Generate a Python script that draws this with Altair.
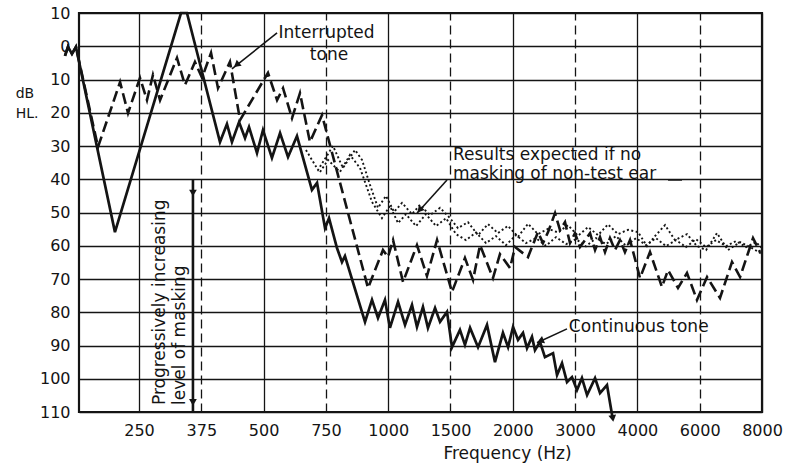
import altair as alt
import pandas as pd

FONT = "DejaVu Sans"
INK = "#141414"

# ---- axis tick labels -------------------------------------------------
freq_labels = ["250", "375", "500", "750", "1000", "1500", "2000", "3000", "4000", "6000", "8000"]
freq_pos = [0.5 * i for i in range(len(freq_labels))]   # audiogram position (octaves above 250 Hz)
db_ticks = list(range(-10, 111, 10))

# ---- continuous tone (solid) -------------------------------------------
cont_oct = [-0.594, -0.570, -0.538, -0.506, -0.193, 0.337, 0.385, 0.650, 0.706, 0.746, 0.803, 0.851,
            0.883, 0.947, 0.995, 1.067, 1.132, 1.196, 1.268, 1.388, 1.429, 1.493, 1.525, 1.589, 1.629,
            1.653, 1.814, 1.870, 1.918, 1.974, 2.014, 2.079, 2.135, 2.191, 2.231, 2.279, 2.319, 2.376,
            2.416, 2.472, 2.512, 2.576, 2.616, 2.657, 2.721, 2.793, 2.857, 2.921, 2.962, 3.002, 3.042,
            3.082, 3.114, 3.154, 3.178, 3.218, 3.258, 3.323, 3.355, 3.395, 3.435, 3.475, 3.515, 3.555,
            3.596, 3.660, 3.700, 3.756, 3.802]
cont_db = [2.9, 0.2, 2.3, 0.2, 55.9, -10, -10, 28.8, 23.4, 28.8, 22.8, 27.6,
           24.3, 32.1, 25.2, 33.6, 26.1, 33.3, 27.0, 43.2, 41.1, 54.7, 51.7, 60.7, 64.9,
           63.1, 82.9, 76.3, 81.7, 76.3, 84.7, 76.9, 83.8, 77.8, 84.4, 78.4, 84.7, 78.7,
           82.9, 79.9, 90.5, 85.3, 89.8, 84.7, 90.5, 83.8, 95.0, 86.2, 90.5, 84.4, 88.3,
           86.2, 90.8, 87.4, 91.4, 88.9, 93.5, 92.3, 98.9, 95.3, 101.0, 99.5, 103.4, 99.8,
           104.9, 99.8, 104.3, 101.9, 112.0]

# ---- interrupted tone (dashed) -----------------------------------------
int_oct = [-0.594, -0.570, -0.538, -0.506, -0.329, -0.152, -0.088, 0.008, 0.064, 0.112, 0.169, 0.305,
           0.369, 0.449, 0.506, 0.578, 0.634, 0.730, 0.811, 1.035, 1.108, 1.156, 1.228, 1.292, 1.372,
           1.469, 1.838, 1.958, 1.998, 2.039, 2.119, 2.231, 2.311, 2.392, 2.512, 2.616, 2.681, 2.737,
           2.841, 2.897, 2.978, 3.018, 3.122, 3.202, 3.242, 3.283, 3.339, 3.379, 3.419, 3.459, 3.499,
           3.539, 3.620, 3.660, 3.700, 3.740, 3.780, 3.820, 3.860, 3.900, 3.941, 4.021, 4.101, 4.197,
           4.246, 4.326, 4.398, 4.478, 4.559, 4.663, 4.759, 4.824, 4.928, 4.984]
int_db = [2.9, 0.2, 2.3, 0.2, 30.3, 10.8, 20.1, 9.5, 16.2, 8.6, 16.2, 3.5,
          11.7, 4.7, 9.5, 2.0, 12.6, 4.7, 22.2, 8.0, 16.2, 12.6, 21.6, 14.1, 28.8,
          20.7, 72.7, 61.3, 63.4, 58.3, 70.9, 59.8, 69.1, 58.3, 73.9, 63.7, 70.3, 59.8,
          69.7, 62.5, 66.7, 60.4, 63.4, 55.9, 59.2, 55.9, 50.2, 55.3, 52.9, 59.2, 56.2,
          60.4, 56.2, 61.3, 57.4, 61.9, 57.7, 61.3, 58.3, 61.9, 58.3, 69.7, 61.9, 72.4,
          67.3, 72.7, 68.2, 76.3, 69.4, 75.7, 64.9, 69.4, 57.7, 61.9]

# ---- results expected if no masking (two dotted tracings) ---------------
dotA_oct = [1.340, 1.437, 1.557, 1.637, 1.734, 1.790, 1.854, 1.918, 1.982, 2.047, 2.111, 2.191,
            2.255, 2.335, 2.416, 2.496, 2.560, 2.640, 2.721, 2.801, 2.881, 2.961, 3.042, 3.122,
            3.202, 3.283, 3.363, 3.443, 3.523, 3.604, 3.684, 3.764, 3.844, 3.925, 4.005, 4.077,
            4.141, 4.222, 4.302, 4.398, 4.478, 4.551, 4.639, 4.727, 4.824, 4.920, 5.000]
dotA_db = [31.2, 37.2, 30.0, 36.6, 31.2, 34.2, 41.7, 48.6, 45.0, 49.8, 47.1, 50.5,
           47.7, 50.8, 48.6, 51.7, 54.7, 52.9, 56.8, 53.5, 56.2, 54.0, 57.3, 53.4,
           56.5, 54.9, 56.0, 53.8, 57.0, 54.4, 56.8, 53.6, 56.5, 55.2, 55.9, 60.1,
           57.1, 53.8, 58.3, 56.5, 60.1, 61.3, 56.2, 61.3, 58.9, 60.7, 62.5]
dotB_oct = [1.453, 1.517, 1.613, 1.693, 1.774, 1.870, 1.950, 2.014, 2.079, 2.143, 2.223, 2.303,
            2.384, 2.464, 2.544, 2.624, 2.705, 2.785, 2.865, 2.945, 3.026, 3.106, 3.186, 3.266,
            3.347, 3.427, 3.507, 3.587, 3.668, 3.748, 3.828, 3.909, 3.989, 4.069, 4.149, 4.230,
            4.310, 4.390, 4.470, 4.551, 4.631, 4.711, 4.791, 4.872, 4.952, 5.000]
dotB_db = [37.8, 34.2, 37.8, 32.7, 36.6, 46.8, 51.7, 48.0, 53.2, 50.5, 54.1, 50.5,
           54.1, 51.7, 56.5, 58.3, 56.0, 59.2, 57.1, 59.8, 56.8, 59.2, 57.7, 60.0,
           57.4, 59.5, 58.0, 60.2, 57.7, 59.5, 57.1, 60.0, 57.7, 59.8, 57.7, 60.1,
           58.3, 60.4, 58.0, 60.4, 58.3, 60.1, 58.6, 60.4, 58.9, 60.7]

# ---- annotations ---------------------------------------------------------
ann_left_txt = ["Interrupted", "Results expected if no", "masking of non-test ear", "Continuous tone"]
ann_left_oct = [1.12, 2.52, 2.52, 3.45]
ann_left_db = [-4.0, 32.7, 38.3, 84.4]
ann_center_txt = ["tone"]
ann_center_oct = [1.525]
ann_center_db = [2.6]
unit_txt = ["dB", "HL."]
unit_oct = [-0.99, -0.99]
unit_db = [14.4, 20.4]
rot_txt = ["Progressively increasing", "level of masking"]
rot_oct = [0.169, 0.329]
rot_db = [107.9, 107.9]

arrow_oct = [1.108, 2.472, 3.435, 4.246]
arrow_db = [-4.0, 40.2, 85.0, 40.2]
arrow_oct2 = [0.746, 2.231, 3.194, 4.358]
arrow_db2 = [6.8, 50.2, 89.2, 40.2]

head_oct = [0.79, 2.258, 3.23, 3.801, 0.433, 0.433]
head_db = [5.4, 49.0, 88.5, 111.6, 43.8, 106.8]
head_angle = [231, 222, 247, 171, 180, 180]

mask_oct = [0.433]
mask_db = [40.2]
mask_db2 = [110]

# ---- build tables --------------------------------------------------------
def curve(xs, ys):
    n = min(len(xs), len(ys))
    return pd.DataFrame({"idx": list(range(n)), "oct": xs[:n], "db": ys[:n]})

label_expr = "[" + ",".join(f"'{l}'" for l in freq_labels) + "][round(datum.value*2)]"

xscale = alt.Scale(domain=[-0.4815, 5.0], nice=False, zero=False)
yscale = alt.Scale(domain=[-10, 110], reverse=True, nice=False, zero=False)

x_axis = alt.Axis(values=freq_pos, labelExpr=label_expr, grid=True, gridColor=INK, gridWidth=1.3,
                  gridOpacity=1,
                  gridDash={"condition": {"test": "datum.value % 1 != 0", "value": [9, 5]}, "value": [1, 0]},
                  ticks=False, domain=False, labelFont=FONT, labelFontSize=16, labelColor=INK,
                  labelPadding=10, labelFlush=False, title="Frequency (Hz)", titleFont=FONT,
                  titleFontSize=17, titleFontWeight="normal", titleColor=INK, titleX=428, titleY=41,
                  titleBaseline="middle")
y_axis = alt.Axis(values=db_ticks, labelExpr="'' + abs(datum.value)", grid=True, gridColor=INK,
                  gridWidth=1.3, gridOpacity=1, ticks=False, domain=False, labelFont=FONT,
                  labelFontSize=16, labelColor=INK, labelPadding=9, title=None)

X = alt.X("oct:Q", scale=xscale, axis=x_axis)
Y = alt.Y("db:Q", scale=yscale, axis=y_axis)

dotA = alt.Chart(curve(dotA_oct, dotA_db)).mark_line(
    color=INK, strokeWidth=1.9, strokeDash=[2, 2.5], strokeCap="butt").encode(x=X, y=Y, order="idx:Q")
dotB = alt.Chart(curve(dotB_oct, dotB_db)).mark_line(
    color=INK, strokeWidth=1.9, strokeDash=[2, 2.5], strokeCap="butt").encode(x=X, y=Y, order="idx:Q")
dashed = alt.Chart(curve(int_oct, int_db)).mark_line(
    color=INK, strokeWidth=2.6, strokeDash=[11, 5], strokeJoin="miter").encode(x=X, y=Y, order="idx:Q")
solid = alt.Chart(curve(cont_oct, cont_db)).mark_line(
    color=INK, strokeWidth=2.7, strokeJoin="miter").encode(x=X, y=Y, order="idx:Q")

arrows = alt.Chart(pd.DataFrame({"oct": arrow_oct, "db": arrow_db, "oct2": arrow_oct2, "db2": arrow_db2})).mark_rule(
    color=INK, strokeWidth=1.6).encode(x=X, y=Y, x2="oct2:Q", y2="db2:Q")

mask = alt.Chart(pd.DataFrame({"oct": mask_oct, "db": mask_db, "db2": mask_db2})).mark_rule(
    color=INK, strokeWidth=2.6).encode(x=X, y=Y, y2="db2:Q")

heads = alt.Chart(pd.DataFrame({"oct": head_oct, "db": head_db, "ang": head_angle})).mark_point(
    shape="triangle", filled=True, size=60, color=INK, opacity=1).encode(
    x=X, y=Y, angle=alt.Angle("ang:Q", scale=None))

txt_left = alt.Chart(pd.DataFrame({"oct": ann_left_oct, "db": ann_left_db, "t": ann_left_txt})).mark_text(
    align="left", baseline="middle", font=FONT, fontSize=17, color=INK).encode(x=X, y=Y, text="t:N")
txt_center = alt.Chart(pd.DataFrame({"oct": ann_center_oct, "db": ann_center_db, "t": ann_center_txt})).mark_text(
    align="center", baseline="middle", font=FONT, fontSize=17, color=INK).encode(x=X, y=Y, text="t:N")
txt_unit = alt.Chart(pd.DataFrame({"oct": unit_oct, "db": unit_db, "t": unit_txt})).mark_text(
    align="left", baseline="middle", font=FONT, fontSize=14, color=INK).encode(x=X, y=Y, text="t:N")
txt_rot = alt.Chart(pd.DataFrame({"oct": rot_oct, "db": rot_db, "t": rot_txt})).mark_text(
    align="left", baseline="middle", angle=270, font=FONT, fontSize=17, color=INK).encode(x=X, y=Y, text="t:N")

chart = alt.layer(dotA, dotB, dashed, solid, mask, arrows, heads,
                  txt_left, txt_center, txt_unit, txt_rot).properties(
    width=683, height=399,
    padding={"left": 79, "top": 13, "right": 31, "bottom": 52},
    autosize=alt.AutoSizeParams(type="none"),
    background="white",
).configure_view(stroke=INK, strokeWidth=2.2)

chart.save("out.html", embed_options={"renderer": "svg", "actions": False})
